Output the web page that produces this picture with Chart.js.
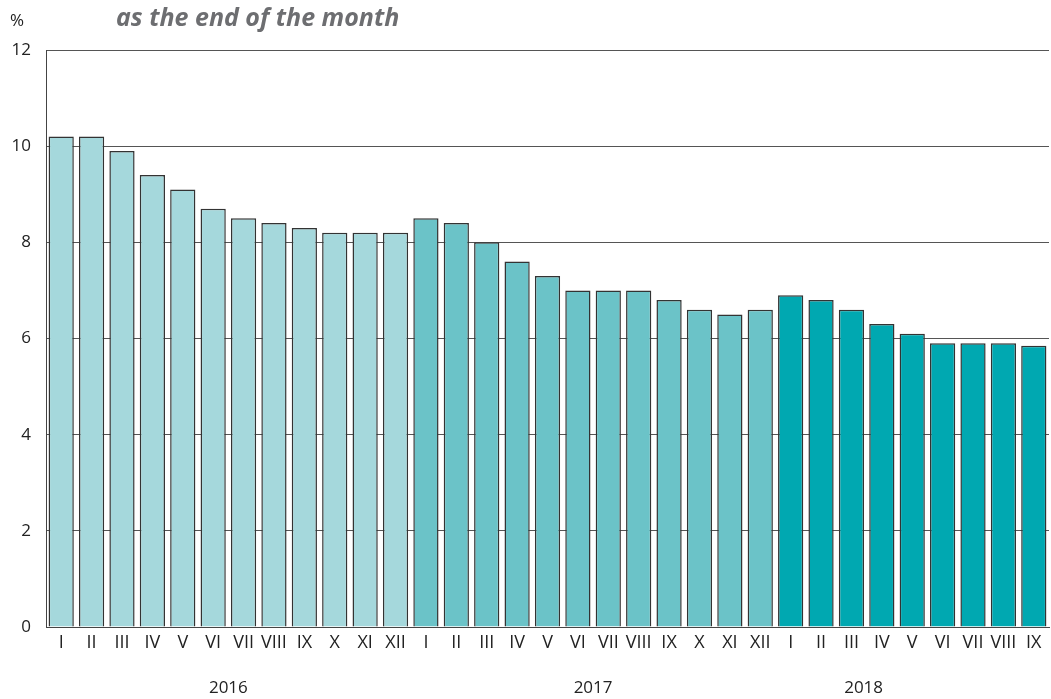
<!DOCTYPE html>
<html>
<head>
<meta charset="utf-8">
<script src="https://cdn.jsdelivr.net/npm/chart.js@4"></script>
<style>
  html, body { margin: 0; padding: 0; background: #fff; }
  #wrap { width: 1051px; height: 699px; position: relative; }
</style>
</head>
<body>
<div id="wrap"><canvas id="myChart"></canvas></div>
<script>
// data
const months = ['I','II','III','IV','V','VI','VII','VIII','IX','X','XI','XII'];
const years = ['2016', '2017', '2018'];
const values2016 = [10.2, 10.2, 9.9, 9.4, 9.1, 8.7, 8.5, 8.4, 8.3, 8.2, 8.2, 8.2];
const values2017 = [8.5, 8.4, 8.0, 7.6, 7.3, 7.0, 7.0, 7.0, 6.8, 6.6, 6.5, 6.6];
const values2018 = [6.9, 6.8, 6.6, 6.3, 6.1, 5.9, 5.9, 5.9, 5.85];
const yearColors = ['#a5d8dc', '#6bc3c8', '#00a8b1'];
// where the year captions sit, in category index units
const yearLabelPos = [5.5, 17.5, 26.4];
const yTicks = [0, 2, 4, 6, 8, 10, 12];

const series = [values2016, values2017, values2018];
const labels = [];
const values = [];
const colors = [];
series.forEach((vals, i) => {
  vals.forEach((v, j) => {
    labels.push(months[j]);
    values.push(v);
    colors.push(yearColors[i]);
  });
});

const fontFamily = '"Open Sans", "Noto Sans", sans-serif';

// title, % sign and year captions
const extras = {
  id: 'extras',
  afterDraw(chart) {
    const ctx = chart.ctx;
    const x = chart.scales.x;
    ctx.save();
    ctx.fillStyle = '#6d6e71';
    ctx.font = 'italic bold 25px ' + fontFamily;
    ctx.textAlign = 'left';
    ctx.textBaseline = 'middle';
    ctx.fillText('as the end of the month', 116, 19);
    ctx.fillStyle = '#222';
    ctx.font = '17px ' + fontFamily;
    ctx.fillText('%', 10, 21);
    ctx.textAlign = 'center';
    years.forEach((y, i) => {
      ctx.fillText(y, x.getPixelForValue(yearLabelPos[i]), 688);
    });
    ctx.restore();
  }
};

new Chart(document.getElementById('myChart'), {
  type: 'bar',
  data: {
    labels: labels,
    datasets: [{
      data: values,
      backgroundColor: colors,
      borderColor: '#333',
      borderWidth: 1.5,
      borderSkipped: 'bottom',
      categoryPercentage: 1,
      barPercentage: 0.83
    }]
  },
  options: {
    responsive: true,
    maintainAspectRatio: false,
    animation: false,
    layout: { padding: { top: 50, right: 2, left: 0, bottom: 0 } },
    plugins: {
      legend: { display: false },
      tooltip: { enabled: false }
    },
    scales: {
      x: {
        grid: { display: false, drawTicks: false },
        border: { color: '#444', width: 1 },
        ticks: {
          color: '#222',
          font: { size: 18, family: fontFamily },
          padding: 5,
          autoSkip: false,
          maxRotation: 0
        },
        afterFit(scale) { scale.height = 72; }
      },
      y: {
        min: 0,
        max: 12,
        afterBuildTicks(scale) { scale.ticks = yTicks.map(v => ({ value: v })); },
        grid: { color: '#555', lineWidth: 1, drawTicks: false },
        border: { color: '#444', width: 1 },
        ticks: {
          color: '#222',
          font: { size: 17, family: fontFamily },
          padding: 15
        },
        afterFit(scale) { scale.width = 46; }
      }
    }
  },
  plugins: [extras]
});
</script>
</body>
</html>
